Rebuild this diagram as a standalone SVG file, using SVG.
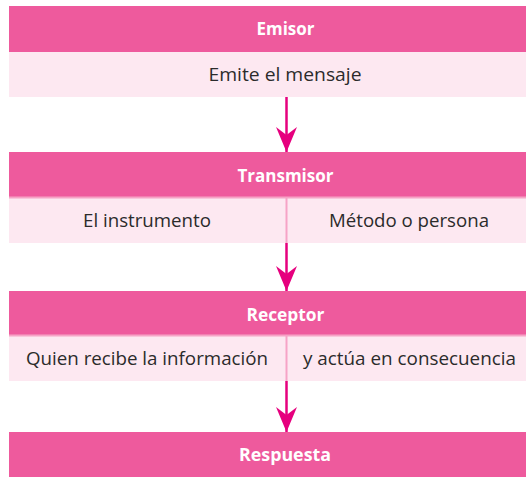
<svg xmlns="http://www.w3.org/2000/svg" width="526" height="478" viewBox="0 0 526 478">
<style>
.hdr{fill:#EE5A9D}
.band{fill:#FDE8F1}
.sep{stroke:#F6A3C6;stroke-width:2}
.ht{font-family:"Open Sans","Liberation Sans",Arial,sans-serif;font-weight:bold;font-size:18.5px;fill:#ffffff;text-anchor:middle}
.bt{font-family:"Open Sans","Liberation Sans",Arial,sans-serif;font-size:18.5px;fill:#2b2b2b;text-anchor:middle}
.conn{stroke:#E6007E;stroke-width:2.5;fill:none}
</style>
<defs>
<marker id="ah" viewBox="0 -10.5 25 21" refX="25" refY="0" markerWidth="25" markerHeight="21" markerUnits="userSpaceOnUse" orient="auto">
<path d="M0,-10.5 L25,0 L0,10.5 L8,0 Z" fill="#E6007E"/>
</marker>
</defs>
<rect width="526" height="478" fill="#ffffff"/>
<g id="emisor">
<rect class="hdr" x="9" y="6" width="517" height="46"/>
<text class="ht" x="285.5" y="35" textLength="58" lengthAdjust="spacingAndGlyphs">Emisor</text>
<rect class="band" x="9" y="52" width="517" height="45"/>
<text class="bt" x="285" y="81" textLength="153" lengthAdjust="spacingAndGlyphs">Emite el mensaje</text>
</g>
<g id="transmisor">
<rect class="hdr" x="9" y="152" width="517" height="45"/>
<text class="ht" x="285.5" y="181.5" textLength="96" lengthAdjust="spacingAndGlyphs">Transmisor</text>
<rect class="band" x="9" y="197" width="517" height="46"/>
<line class="sep" x1="9" y1="197.5" x2="526" y2="197.5" stroke-width="1.5"/>
<line class="sep" x1="286.5" y1="197" x2="286.5" y2="243"/>
<text class="bt" x="147" y="227" textLength="128" lengthAdjust="spacingAndGlyphs">El instrumento</text>
<text class="bt" x="409" y="227" textLength="160" lengthAdjust="spacingAndGlyphs">Método o persona</text>
</g>
<g id="receptor">
<rect class="hdr" x="9" y="291" width="517" height="44"/>
<text class="ht" x="285.5" y="320.5" textLength="78" lengthAdjust="spacingAndGlyphs">Receptor</text>
<rect class="band" x="9" y="335" width="517" height="46"/>
<line class="sep" x1="9" y1="335.5" x2="526" y2="335.5" stroke-width="1.5"/>
<line class="sep" x1="286.5" y1="335" x2="286.5" y2="381"/>
<text class="bt" x="147" y="365" textLength="242" lengthAdjust="spacingAndGlyphs">Quien recibe la información</text>
<text class="bt" x="409.5" y="365" textLength="213" lengthAdjust="spacingAndGlyphs">y actúa en consecuencia</text>
</g>
<g id="respuesta">
<rect class="hdr" x="9" y="432" width="517" height="45"/>
<text class="ht" x="285" y="461" textLength="92" lengthAdjust="spacingAndGlyphs">Respuesta</text>
</g>
<g id="connectors">
<line class="conn" x1="286.5" y1="97" x2="286.5" y2="152" marker-end="url(#ah)"/>
<line class="conn" x1="286.5" y1="243" x2="286.5" y2="291" marker-end="url(#ah)"/>
<line class="conn" x1="286.5" y1="381" x2="286.5" y2="432" marker-end="url(#ah)"/>
</g>
</svg>
